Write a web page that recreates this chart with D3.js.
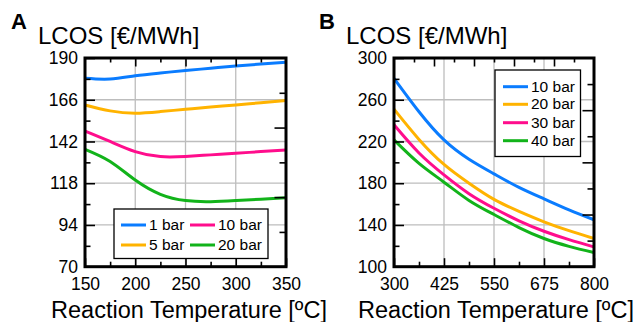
<!DOCTYPE html>
<html>
<head>
<meta charset="utf-8">
<script src="https://cdn.jsdelivr.net/npm/d3@7"></script>
<style>
  body { margin: 0; background: #fff; }
  svg text { font-family: "Liberation Sans", Arial, sans-serif; fill: #000; }
</style>
</head>
<body>
<svg id="chart" width="638" height="322"></svg>
<script>
// panel A : LCOS vs temperature at low pressures
var tempA = [150, 175, 200, 225, 250, 275, 300, 325, 350];
var bar1  = [178.3, 177.9, 179.8, 181.4, 182.8, 184.1, 185.4, 186.5, 187.5];
var bar5  = [163.0, 159.6, 158.3, 159.2, 160.5, 161.8, 163.0, 164.3, 165.5];
var bar10 = [148.0, 142.0, 136.2, 133.3, 133.4, 134.3, 135.2, 136.2, 137.1];
var bar20 = [137.5, 130.5, 119.8, 111.6, 108.0, 107.4, 108.0, 108.8, 109.7];
var namesA = ["1 bar", "5 bar", "10 bar", "20 bar"];
var xTicksA = [150, 200, 250, 300, 350];
var yTicksA = [70, 94, 118, 142, 166, 190];

// panel B : LCOS vs temperature at higher pressures
var tempB = [300, 362.5, 425, 487.5, 550, 612.5, 675, 737.5, 800];
var bar10B = [280.5, 248.5, 221.5, 203.0, 189.0, 176.0, 165.0, 154.5, 145.0];
var bar20B = [251.0, 222.0, 198.0, 180.0, 164.5, 153.0, 143.0, 134.5, 127.0];
var bar30B = [236.0, 209.0, 188.0, 170.0, 156.0, 144.0, 134.0, 126.0, 119.0];
var bar40B = [221.5, 199.0, 181.0, 163.5, 150.0, 137.5, 127.0, 119.5, 113.5];
var namesB = ["10 bar", "20 bar", "30 bar", "40 bar"];
var xTicksB = [300, 425, 550, 675, 800];
var yTicksB = [100, 140, 180, 220, 260, 300];

var colors = ["#0a7cff", "#ffb300", "#ff0d8c", "#12b31a"];

var svg = d3.select("#chart");

function panel(cfg) {
  var g = svg.append("g").attr("transform", "translate(" + cfg.left + "," + cfg.top + ")");
  var w = cfg.width, h = cfg.height;
  var x = d3.scaleLinear().domain(cfg.xDomain).range([0, w]);
  var y = d3.scaleLinear().domain(cfg.yDomain).range([h, 0]);

  // grid
  g.append("g").selectAll("line").data(cfg.xTicks.slice(1, -1)).join("line")
    .attr("x1", d => x(d)).attr("x2", d => x(d)).attr("y1", 0).attr("y2", h)
    .attr("stroke", "#bdbdbd").attr("stroke-width", 1.3);
  g.append("g").selectAll("line").data(cfg.yTicks.slice(1, -1)).join("line")
    .attr("y1", d => y(d)).attr("y2", d => y(d)).attr("x1", 0).attr("x2", w)
    .attr("stroke", "#bdbdbd").attr("stroke-width", 1.3);

  // curves
  var line = d3.line().curve(d3.curveNatural)
    .x(d => x(d[0])).y(d => y(d[1]));
  cfg.series.forEach(function (s, i) {
    g.append("path").datum(cfg.xs.map((t, k) => [t, s[k]]))
      .attr("d", line).attr("fill", "none")
      .attr("stroke", colors[i]).attr("stroke-width", 3);
  });

  // legend
  var lg = g.append("g").attr("transform", "translate(" + cfg.legend.x + "," + cfg.legend.y + ")");
  lg.append("rect").attr("width", cfg.legend.w).attr("height", cfg.legend.h)
    .attr("fill", "#fff").attr("stroke", "#000").attr("stroke-width", 1.3);
  cfg.names.forEach(function (n, i) {
    var p = cfg.legend.pos[i];
    lg.append("line").attr("x1", p[0]).attr("x2", p[0] + 25).attr("y1", p[1]).attr("y2", p[1])
      .attr("stroke", colors[i]).attr("stroke-width", 3);
    lg.append("text").attr("x", p[0] + 28).attr("y", p[1] + 1)
      .attr("dominant-baseline", "middle").attr("font-size", "15.5px").text(n);
  });

  // axes with inward ticks
  function ax(gen, vals, size, fmt, tr, pad) {
    var a = gen.tickValues(vals).tickSizeInner(-size).tickSizeOuter(0).tickPadding(pad || 7);
    if (!fmt) a.tickFormat("");
    var s = g.append("g").attr("transform", tr || null).call(a);
    s.select(".domain").remove();
    s.selectAll("line").attr("stroke", "#000").attr("stroke-width", 1.6);
    s.selectAll("text").attr("font-size", "17.5px").attr("font-family", "Liberation Sans, Arial, sans-serif");
    return s;
  }
  ax(d3.axisLeft(y), cfg.yTicks, 10, true);
  ax(d3.axisLeft(y), cfg.yMinor, 5.5, false);
  ax(d3.axisBottom(x), cfg.xTicks, 8.5, true, "translate(0," + h + ")", 10.5);
  ax(d3.axisBottom(x), cfg.xMinor, 5, false, "translate(0," + h + ")");
  ax(d3.axisTop(x), cfg.topMajor, 8.5, false);
  ax(d3.axisTop(x), cfg.topMinor, 4.5, false);
  var r = d3.scaleLinear().domain([0, cfg.rightDiv]).range([h, 0]);
  var rMajor = d3.range(2, cfg.rightDiv, 2), rMinor = d3.range(1, cfg.rightDiv, 2);
  ax(d3.axisRight(r), rMajor, 11.5, false, "translate(" + w + ",0)");
  ax(d3.axisRight(r), rMinor, 6.5, false, "translate(" + w + ",0)");

  // frame
  g.append("rect").attr("width", w).attr("height", h)
    .attr("fill", "none").attr("stroke", "#000").attr("stroke-width", 3);

  // labels
  svg.append("text").attr("x", cfg.letterX).attr("y", 28.5)
    .attr("font-size", "22px").attr("font-weight", "bold").text(cfg.letter);
  svg.append("text").attr("x", cfg.yTitleX).attr("y", 43.5)
    .attr("font-size", "24px").text("LCOS [€/MWh]");
  svg.append("text").attr("x", cfg.left + w / 2 + cfg.xTitleShift).attr("y", 318)
    .attr("text-anchor", "middle").attr("font-size", "23.5px")
    .text("Reaction Temperature [ºC]");
}

panel({
  left: 85, top: 58, width: 201, height: 208.7,
  xDomain: [150, 350], yDomain: [70, 190],
  xs: tempA, series: [bar1, bar5, bar10, bar20], names: namesA,
  xTicks: xTicksA, yTicks: yTicksA,
  xMinor: [175, 225, 275, 325], yMinor: [82, 106, 130, 154, 178],
  topMajor: [200, 250, 300], topMinor: [175, 225, 275, 325],
  rightDiv: 6,
  legend: { x: 29, y: 151, w: 154, h: 49.5,
            pos: [[7, 16], [7, 36], [76, 16], [76, 36]] },
  letter: "A", letterX: 11, yTitleX: 38, xTitleShift: 3.5
});

panel({
  left: 394, top: 58, width: 200, height: 208.7,
  xDomain: [300, 800], yDomain: [100, 300],
  xs: tempB, series: [bar10B, bar20B, bar30B, bar40B], names: namesB,
  xTicks: xTicksB, yTicks: yTicksB,
  xMinor: [362.5, 487.5, 612.5, 737.5], yMinor: [120, 160, 200, 240, 280],
  topMajor: [400, 500, 600, 700], topMinor: [350, 450, 550, 650, 750],
  rightDiv: 8,
  legend: { x: 101, y: 12, w: 85.5, h: 86.5,
            pos: [[8, 16.7], [8, 34.3], [8, 52.7], [8, 70.7]] },
  letter: "B", letterX: 319, yTitleX: 346, xTitleShift: 2
});
</script>
</body>
</html>
